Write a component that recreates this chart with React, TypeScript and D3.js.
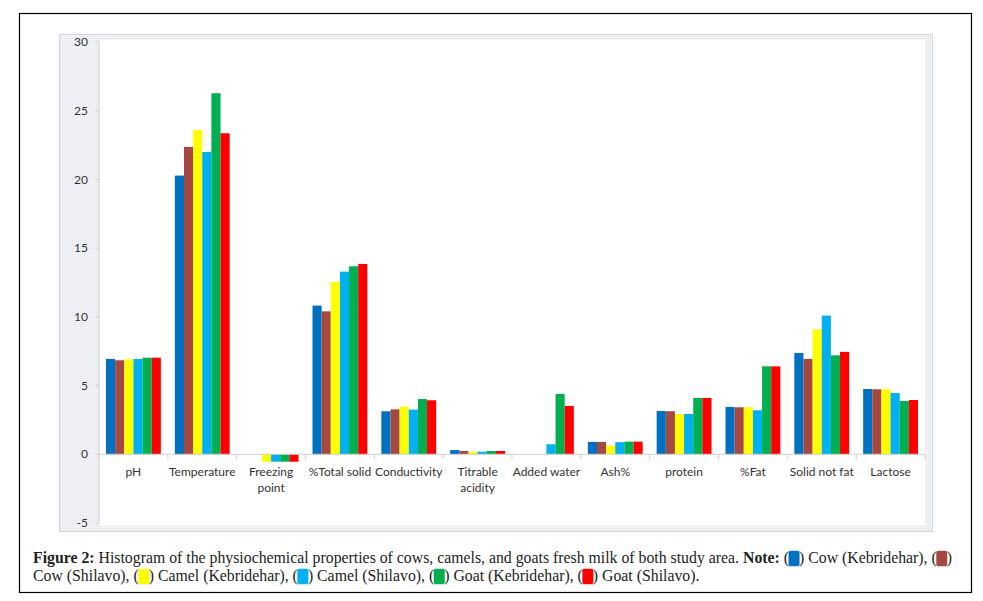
import React, { useEffect, useRef } from "react";
import * as d3 from "d3";

const categories = ["pH", "Temperature", "Freezing point", "%Total solid", "Conductivity", "Titrable acidity", "Added water", "Ash%", "protein", "%Fat", "Solid not fat", "Lactose"];
const categoryLines = [["pH"], ["Temperature"], ["Freezing", "point"], ["%Total solid"], ["Conductivity"], ["Titrable", "acidity"], ["Added water"], ["Ash%"], ["protein"], ["%Fat"], ["Solid not fat"], ["Lactose"]];
const seriesNames = ["Cow (Kebridehar)", "Cow (Shilavo)", "Camel (Kebridehar)", "Camel (Shilavo)", "Goat (Kebridehar)", "Goat (Shilavo)"];
const seriesColors = ["#0070C0", "#A64842", "#FFFF00", "#00B0F0", "#00B050", "#FF0000"];
const cowKebridehar = [6.94, 20.28, 0, 10.82, 3.13, 0.31, 0, 0.9, 3.15, 3.44, 7.37, 4.75];
const cowShilavo = [6.84, 22.37, 0, 10.4, 3.27, 0.24, 0, 0.9, 3.13, 3.42, 6.94, 4.73];
const camelKebridehar = [6.91, 23.6, -0.54, 12.54, 3.47, 0.17, 0, 0.63, 2.93, 3.42, 9.1, 4.73];
const camelShilavo = [6.93, 22.0, -0.54, 13.29, 3.25, 0.19, 0.73, 0.88, 2.93, 3.2, 10.09, 4.46];
const goatKebridehar = [7.03, 26.27, -0.54, 13.68, 4.02, 0.24, 4.39, 0.92, 4.1, 6.4, 7.2, 3.88];
const goatShilavo = [7.03, 23.36, -0.54, 13.85, 3.93, 0.24, 3.52, 0.92, 4.1, 6.4, 7.45, 3.95];
const seriesValues = [cowKebridehar, cowShilavo, camelKebridehar, camelShilavo, goatKebridehar, goatShilavo];
const yTicks = [-5, 0, 5, 10, 15, 20, 25, 30];

const W = 983, H = 601;
const plot = { left: 99, right: 925, top: 42, bottom: 523 };

export default function App() {
  const capRef = useRef<SVGGElement | null>(null);

  const x0 = d3.scaleBand<string>().domain(categories).range([plot.left, plot.right]).padding(0);
  const bw = x0.bandwidth();
  const x1 = d3.scaleBand<number>().domain(d3.range(seriesNames.length)).range([7, bw - 7]).padding(0);
  const y = d3.scaleLinear().domain([-5, 30]).range([plot.bottom, plot.top]);
  const y0 = y(0);

  useEffect(() => {
    const g = d3.select(capRef.current);
    g.selectAll("*").remove();
    const font = "'Liberation Serif', 'DejaVu Serif', serif";
    type Seg = { t?: string; b?: boolean; sw?: number };
    const line1: Seg[] = [
      { t: "Figure 2:", b: true },
      { t: " Histogram of the physiochemical properties of cows, camels, and goats fresh milk of both study area. " },
      { t: "Note:", b: true },
      { t: " (" }, { sw: 0 }, { t: ") Cow (Kebridehar), (" }, { sw: 1 }, { t: ")" },
    ];
    const line2: Seg[] = [
      { t: "Cow (Shilavo), (" }, { sw: 2 }, { t: ") Camel (Kebridehar), (" }, { sw: 3 },
      { t: ") Camel (Shilavo), (" }, { sw: 4 }, { t: ") Goat (Kebridehar), (" }, { sw: 5 }, { t: ") Goat (Shilavo)." },
    ];
    const swW = 10;
    const measure = (segs: Seg[], fs: number) => {
      let w = 0;
      segs.forEach((s) => {
        if (s.sw !== undefined) { w += swW; return; }
        const t = g.append("text").attr("font-family", font).attr("font-size", fs)
          .attr("font-weight", s.b ? "bold" : "normal").style("white-space", "pre").text(s.t!);
        w += (t.node() as SVGTextElement).getComputedTextLength();
        t.remove();
      });
      return w;
    };
    const base = 14;
    const w1 = measure(line1, base);
    const fs = base * (955 - 33) / w1;
    const draw = (segs: Seg[], yy: number) => {
      let cx = 33;
      segs.forEach((s) => {
        if (s.sw !== undefined) {
          g.append("rect").attr("x", cx - 0.5).attr("y", yy - fs * 0.78).attr("width", swW + 1).attr("height", fs * 0.98)
            .attr("rx", 2).attr("fill", seriesColors[s.sw]);
          cx += swW;
          return;
        }
        const t = g.append("text").attr("x", cx).attr("y", yy).attr("font-family", font).attr("font-size", fs)
          .attr("font-weight", s.b ? "bold" : "normal").attr("fill", "#222").style("white-space", "pre").text(s.t!);
        cx += (t.node() as SVGTextElement).getComputedTextLength();
      });
    };
    draw(line1, 563);
    draw(line2, 581);
  }, []);

  const axisFont = "Lato, 'Open Sans', sans-serif";

  return (
    <svg width={W} height={H} style={{ position: "absolute", left: 0, top: 0, background: "#fff" }}>
      <defs>
        <pattern id="dots" width="2" height="2" patternUnits="userSpaceOnUse">
          <rect width="2" height="2" fill="#f3f4f7" />
          <rect width="1" height="1" fill="#dfe2e8" />
        </pattern>
      </defs>
      <rect x={19.5} y={13.5} width={952} height={579} fill="#fff" stroke="#000" strokeWidth={1.2} />
      <rect x={59.5} y={34.5} width={873} height={497} fill="url(#dots)" stroke="#d4d6da" strokeWidth={1} />
      <rect x={plot.left} y={40} width={plot.right - plot.left} height={485} fill="#fff" />

      {/* y axis */}
      <line x1={plot.left} x2={plot.left} y1={y(30)} y2={y(-5)} stroke="#d0d0d0" strokeWidth={1} />
      {yTicks.map((t) => (
        <g key={t}>
          <line x1={plot.left - 4} x2={plot.left} y1={y(t)} y2={y(t)} stroke="#d0d0d0" />
          <text x={88} y={y(t)} dy="0.35em" textAnchor="end" fontFamily={axisFont} fontSize={12} fill="#333">{t}</text>
        </g>
      ))}

      {/* bars */}
      {categories.map((c, ci) => (
        <g key={c} transform={`translate(${x0(c)},0)`}>
          {seriesValues.map((vals, si) => {
            const v = vals[ci];
            if (v === 0) return null;
            const yy = Math.min(y(v), y0);
            const hh = Math.abs(y(v) - y0);
            return <rect key={si} x={x1(si)} y={yy} width={x1.bandwidth()} height={hh} fill={seriesColors[si]} />;
          })}
        </g>
      ))}

      {/* x axis */}
      <line x1={plot.left} x2={plot.right} y1={y0} y2={y0} stroke="#d0d0d0" strokeWidth={1} />
      {d3.range(categories.length + 1).map((i) => {
        const xx = plot.left + i * bw;
        return <line key={i} x1={xx} x2={xx} y1={y0} y2={y0 + 5} stroke="#d0d0d0" />;
      })}
      {categories.map((c, ci) => (
        <text key={c} x={(x0(c) as number) + bw / 2} y={476} textAnchor="middle" fontFamily={axisFont} fontSize={12} fill="#333">
          {categoryLines[ci].map((l, li) => (
            <tspan key={li} x={(x0(c) as number) + bw / 2} dy={li === 0 ? 0 : 15.5}>{l}</tspan>
          ))}
        </text>
      ))}

      <g ref={capRef} />
    </svg>
  );
}
